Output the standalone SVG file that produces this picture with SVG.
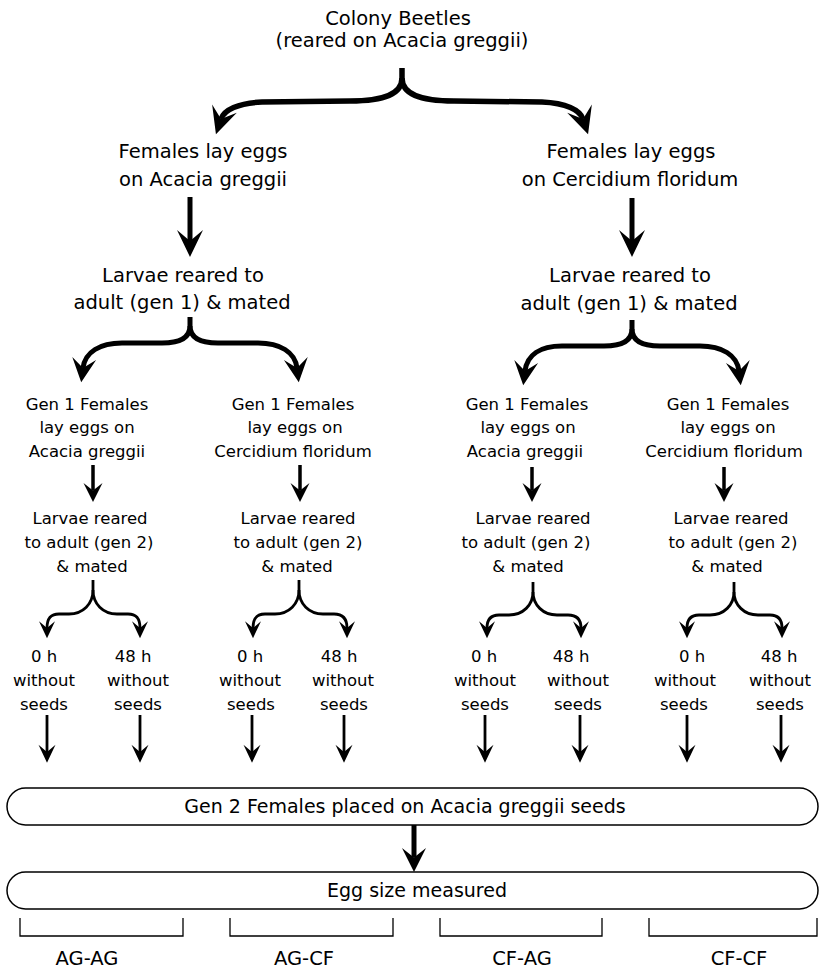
<svg xmlns="http://www.w3.org/2000/svg" width="819" height="969" viewBox="0 0 819 969">
<style>
text{font-family:"DejaVu Sans","Liberation Sans",sans-serif;fill:#000;text-anchor:middle}
.t1{font-size:19.5px}
.t2{font-size:16.5px}
.tb{font-size:19px}
.ln{fill:none;stroke:#000;stroke-linecap:butt;stroke-linejoin:round}
.w6{stroke-width:5.5}
.w5{stroke-width:5}
.w4{stroke-width:3.5}
.w3{stroke-width:2.8}
.box{fill:#fff;stroke:#000;stroke-width:1.5}
.brk{fill:none;stroke:#000;stroke-width:1.3}
</style>
<defs>
<marker id="hBig" markerUnits="userSpaceOnUse" viewBox="-28 -14 29 28" markerWidth="29" markerHeight="28" refX="-16" refY="0" orient="auto" overflow="visible"><path d="M-27,-13 L0,0 L-27,13 L-16,0 Z"/></marker>
<marker id="hBrace" markerUnits="userSpaceOnUse" viewBox="-25 -13 26 26" markerWidth="26" markerHeight="26" refX="-14.4" refY="0" orient="auto" overflow="visible"><path d="M-24,-12 L0,0 L-24,12 L-14.4,0 Z"/></marker>
<marker id="hMed" markerUnits="userSpaceOnUse" viewBox="-20 -10 21 20" markerWidth="21" markerHeight="20" refX="-11.4" refY="0" orient="auto" overflow="visible"><path d="M-19,-9.5 L0,0 L-19,9.5 L-11.4,0 Z"/></marker>
<marker id="hSm" markerUnits="userSpaceOnUse" viewBox="-19 -9 20 18" markerWidth="20" markerHeight="18" refX="-10.8" refY="0" orient="auto" overflow="visible"><path d="M-18,-8.5 L0,0 L-18,8.5 L-10.8,0 Z"/></marker>
<marker id="hXs" markerUnits="userSpaceOnUse" viewBox="-18 -8 19 16" markerWidth="19" markerHeight="16" refX="-10.2" refY="0" orient="auto" overflow="visible"><path d="M-17,-8 L0,0 L-17,8 L-10.2,0 Z"/></marker>
</defs>

<g id="n-colony"><text class="t1" x="398" y="25">Colony Beetles</text><text class="t1" x="402" y="47">(reared on Acacia greggii)</text></g>
<g id="n-ag"><text class="t1" x="203" y="158">Females lay eggs</text><text class="t1" x="203" y="186">on Acacia greggii</text></g>
<g id="n-cf"><text class="t1" x="631" y="158">Females lay eggs</text><text class="t1" x="630" y="186">on Cercidium floridum</text></g>
<g id="n-ag-larvae"><text class="t1" x="183" y="282">Larvae reared to</text><text class="t1" x="182" y="309">adult (gen 1) &amp; mated</text></g>
<g id="n-cf-larvae"><text class="t1" x="630" y="282">Larvae reared to</text><text class="t1" x="629" y="310">adult (gen 1) &amp; mated</text></g>

<g id="n-agag-g1"><text class="t2" x="87" y="410">Gen 1 Females</text><text class="t2" x="87" y="433">lay eggs on</text><text class="t2" x="87" y="457">Acacia greggii</text></g>
<g id="n-agcf-g1"><text class="t2" x="293" y="410">Gen 1 Females</text><text class="t2" x="295" y="433">lay eggs on</text><text class="t2" x="293" y="457">Cercidium floridum</text></g>
<g id="n-cfag-g1"><text class="t2" x="527" y="410">Gen 1 Females</text><text class="t2" x="528" y="433">lay eggs on</text><text class="t2" x="525" y="457">Acacia greggii</text></g>
<g id="n-cfcf-g1"><text class="t2" x="728" y="410">Gen 1 Females</text><text class="t2" x="728" y="433">lay eggs on</text><text class="t2" x="724" y="457">Cercidium floridum</text></g>

<g id="n-agag-g2"><text class="t2" x="90" y="524">Larvae reared</text><text class="t2" x="89" y="548">to adult (gen 2)</text><text class="t2" x="92" y="572">&amp; mated</text></g>
<g id="n-agcf-g2"><text class="t2" x="298" y="524">Larvae reared</text><text class="t2" x="298" y="548">to adult (gen 2)</text><text class="t2" x="297" y="572">&amp; mated</text></g>
<g id="n-cfag-g2"><text class="t2" x="533" y="524">Larvae reared</text><text class="t2" x="526" y="548">to adult (gen 2)</text><text class="t2" x="528" y="572">&amp; mated</text></g>
<g id="n-cfcf-g2"><text class="t2" x="731" y="524">Larvae reared</text><text class="t2" x="733" y="548">to adult (gen 2)</text><text class="t2" x="727" y="572">&amp; mated</text></g>

<g id="n-t1"><text class="t2" x="44" y="662">0 h</text><text class="t2" x="44" y="686">without</text><text class="t2" x="44" y="710">seeds</text></g>
<g id="n-t2"><text class="t2" x="133" y="662">48 h</text><text class="t2" x="138" y="686">without</text><text class="t2" x="138" y="710">seeds</text></g>
<g id="n-t3"><text class="t2" x="250" y="662">0 h</text><text class="t2" x="250" y="686">without</text><text class="t2" x="251" y="710">seeds</text></g>
<g id="n-t4"><text class="t2" x="339" y="662">48 h</text><text class="t2" x="343" y="686">without</text><text class="t2" x="344" y="710">seeds</text></g>
<g id="n-t5"><text class="t2" x="484" y="662">0 h</text><text class="t2" x="485" y="686">without</text><text class="t2" x="485" y="710">seeds</text></g>
<g id="n-t6"><text class="t2" x="571" y="662">48 h</text><text class="t2" x="578" y="686">without</text><text class="t2" x="578" y="710">seeds</text></g>
<g id="n-t7"><text class="t2" x="692" y="662">0 h</text><text class="t2" x="685" y="686">without</text><text class="t2" x="684" y="710">seeds</text></g>
<g id="n-t8"><text class="t2" x="779" y="662">48 h</text><text class="t2" x="780" y="686">without</text><text class="t2" x="780" y="710">seeds</text></g>

<g id="n-placed"><rect class="box" x="7" y="788" width="811" height="37" rx="18.5"/><text class="tb" x="405" y="813">Gen 2 Females placed on Acacia greggii seeds</text></g>
<g id="n-measured"><rect class="box" x="7" y="872" width="811" height="37" rx="18.5"/><text class="tb" x="417" y="897">Egg size measured</text></g>

<g id="groups">
<path class="brk" d="M20,918 V936 H183 V918"/>
<path class="brk" d="M230,918 V936 H393 V918"/>
<path class="brk" d="M440,918 V936 H602 V918"/>
<path class="brk" d="M649,918 V936 H817 V918"/>
<text class="t1" x="87" y="965">AG-AG</text>
<text class="t1" x="304" y="965">AG-CF</text>
<text class="t1" x="522" y="965">CF-AG</text>
<text class="t1" x="739" y="965">CF-CF</text>
</g>

<g id="connectors">
<path class="ln w6" d="M402,68 L402,78 C402,94 385,101 350,101 L262,102 C238,103 224,110 221,119" marker-end="url(#hBig)"/>
<path class="ln w6" d="M402,78 C402,94 419,101 454,101 L542,102 C566,103 580,110 583,119" marker-end="url(#hBig)"/>
<path class="ln w5" d="M190,197 V241" marker-end="url(#hBig)"/>
<path class="ln w5" d="M632,198 V241" marker-end="url(#hBig)"/>
<path class="ln w5" d="M190,317 L190,326 C190,338 180,343 162,343 L122,343 C100,343 85,352 83,368" marker-end="url(#hBrace)"/>
<path class="ln w5" d="M190,326 C190,338 200,343 218,343 L258,343 C280,343 295,352 297,368" marker-end="url(#hBrace)"/>
<path class="ln w5" d="M632,320 L632,329 C632,341 622,346 604,346 L562,346 C540,346 527,355 525,371" marker-end="url(#hBrace)"/>
<path class="ln w5" d="M632,329 C632,341 642,346 660,346 L700,346 C722,346 737,355 739,371" marker-end="url(#hBrace)"/>
<path class="ln w4" d="M93,465 V490.6" marker-end="url(#hMed)"/>
<path class="ln w4" d="M300,465 V490.6" marker-end="url(#hMed)"/>
<path class="ln w4" d="M532,467 V490.6" marker-end="url(#hMed)"/>
<path class="ln w4" d="M724,467 V490.6" marker-end="url(#hMed)"/>
<path class="ln w3" d="M93,580 L93,590 C93,604 83,614 69,614 L59,614 C51,614 47,618 47,628" marker-end="url(#hXs)"/>
<path class="ln w3" d="M93,590 C93,604 103,614 117,614 L128,614 C136,614 140,618 140,628" marker-end="url(#hXs)"/>
<path class="ln w3" d="M299,580 L299,590 C299,604 289,614 275,614 L265,614 C257,614 253,618 253,628" marker-end="url(#hXs)"/>
<path class="ln w3" d="M299,590 C299,604 309,614 323,614 L334,614 C342,614 347,618 347,628" marker-end="url(#hXs)"/>
<path class="ln w3" d="M533,582 L533,592 C533,605 523,615 509,615 L499,615 C491,615 487,619 487,628" marker-end="url(#hXs)"/>
<path class="ln w3" d="M533,592 C533,605 543,615 557,615 L568,615 C576,615 581,619 581,628" marker-end="url(#hXs)"/>
<path class="ln w3" d="M734,582 L734,592 C734,605 724,615 710,615 L699,615 C691,615 687,619 687,628" marker-end="url(#hXs)"/>
<path class="ln w3" d="M734,592 C734,605 744,615 758,615 L770,615 C778,615 782,619 782,628" marker-end="url(#hXs)"/>
<path class="ln w3" d="M47,715 V752" marker-end="url(#hSm)"/>
<path class="ln w3" d="M140,715 V752" marker-end="url(#hSm)"/>
<path class="ln w3" d="M252,715 V752" marker-end="url(#hSm)"/>
<path class="ln w3" d="M344,715 V752" marker-end="url(#hSm)"/>
<path class="ln w3" d="M485,715 V752" marker-end="url(#hSm)"/>
<path class="ln w3" d="M580,715 V752" marker-end="url(#hSm)"/>
<path class="ln w3" d="M687,715 V752" marker-end="url(#hSm)"/>
<path class="ln w3" d="M781,715 V752" marker-end="url(#hSm)"/>
<path class="ln w5" d="M414,825 V857.6" marker-end="url(#hBrace)"/>
</g>
</svg>
